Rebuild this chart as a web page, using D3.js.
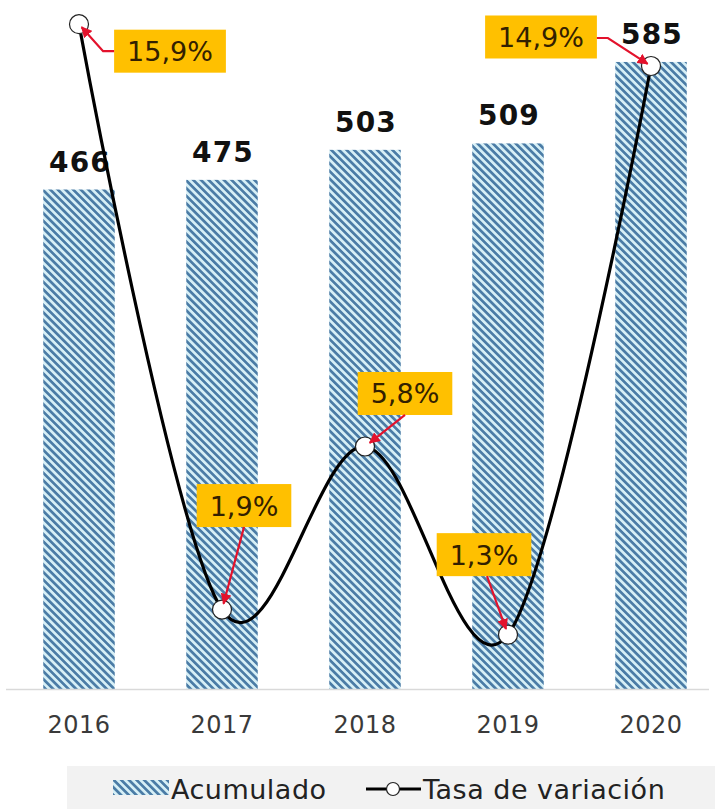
<!DOCTYPE html>
<html>
<head>
<meta charset="utf-8">
<script src="https://cdn.jsdelivr.net/npm/d3@7/dist/d3.min.js"></script>
<style>
  html, body { margin: 0; padding: 0; background: #ffffff; }
  svg { display: block; }
</style>
</head>
<body>
<svg id="chart" width="715" height="809"></svg>
<script>
// ---- data ----
const years = ["2016", "2017", "2018", "2019", "2020"];
const acumulado = [466, 475, 503, 509, 585];
const tasa = [15.9, 1.9, 5.8, 1.3, 14.9];
const tasaLabels = ["15,9%", "1,9%", "5,8%", "1,3%", "14,9%"];
const legendLabels = ["Acumulado", "Tasa de variación"];

// ---- layout (annotation placement, not data) ----
const W = 715, H = 809;
const baseY = 689;
const annot = [
  { dx: 91,  dy: 27,   arrow: "left" },
  { dx: 22,  dy: -104, arrow: "bottom" },
  { dx: 40,  dy: -53,  arrow: "bottom" },
  { dx: -24, dy: -80,  arrow: "bottom" },
  { dx: -110, dy: -29, arrow: "right" }
];

const svg = d3.select("#chart");
const defs = svg.append("defs");

const pat = defs.append("pattern")
  .attr("id", "hatch")
  .attr("patternUnits", "userSpaceOnUse")
  .attr("width", 10).attr("height", 5.4)
  .attr("patternTransform", "rotate(45)");
pat.append("rect").attr("width", 10).attr("height", 5.4).attr("fill", "#d6eff6");
pat.append("rect").attr("width", 10).attr("height", 2.7).attr("fill", "#4b7ca6");

defs.append("marker")
  .attr("id", "arrow")
  .attr("viewBox", "0 0 10 10")
  .attr("refX", 9).attr("refY", 5)
  .attr("markerWidth", 5).attr("markerHeight", 5)
  .attr("markerUnits", "strokeWidth")
  .attr("orient", "auto")
  .append("path").attr("d", "M0,0 L10,5 L0,10 z").attr("fill", "#e3122c");

const x = d3.scaleBand().domain(years).range([7.5, 722.5]).paddingInner(0.5).paddingOuter(0.25);
const y = d3.scaleLinear().domain([0, 640]).range([baseY, 3]);
const y2 = d3.scaleLinear().domain([0, 16]).range([baseY, 20]);
const cx = d => x(d) + x.bandwidth() / 2;

// bars
svg.append("g").selectAll("rect").data(years).join("rect")
  .attr("x", d => x(d))
  .attr("y", (d, i) => y(acumulado[i]))
  .attr("width", x.bandwidth())
  .attr("height", (d, i) => baseY - y(acumulado[i]))
  .attr("fill", "url(#hatch)");

// axis line
svg.append("line").attr("x1", 6).attr("x2", 709).attr("y1", baseY + 0.5).attr("y2", baseY + 0.5)
  .attr("stroke", "#d9d9d9").attr("stroke-width", 1.5);

// x axis labels
const xAxis = d3.axisBottom(x).tickSize(0).tickPadding(0);
const gx = svg.append("g").attr("transform", `translate(0,${baseY})`).call(xAxis);
gx.select(".domain").remove();
gx.selectAll("text")
  .attr("y", 44).attr("dy", 0)
  .attr("font-family", "DejaVu Sans, Verdana, sans-serif")
  .attr("font-size", 24).attr("letter-spacing", 0.5).attr("fill", "#3a3a3a");

// bar value labels
svg.append("g").selectAll("text").data(years).join("text")
  .attr("x", d => cx(d) + 1)
  .attr("y", (d, i) => y(acumulado[i]) - 18)
  .attr("text-anchor", "middle")
  .attr("font-family", "DejaVu Sans, Verdana, sans-serif")
  .attr("font-weight", "bold").attr("font-size", 28)
  .attr("letter-spacing", 1.2)
  .attr("fill", "#111")
  .text((d, i) => acumulado[i]);

// line
const pts = years.map((d, i) => [cx(d), y2(tasa[i])]);
svg.append("path")
  .attr("d", d3.line().curve(d3.curveCardinal.tension(0))(pts))
  .attr("fill", "none").attr("stroke", "#000").attr("stroke-width", 3.2);

// markers
svg.append("g").selectAll("circle").data(pts).join("circle")
  .attr("cx", d => d[0]).attr("cy", d => d[1]).attr("r", 9.5)
  .attr("fill", "#fff").attr("stroke", "#222").attr("stroke-width", 1.2);

// annotation boxes
const ag = svg.append("g");
pts.forEach((p, i) => {
  const a = annot[i];
  const bx = p[0] + a.dx, by = p[1] + a.dy;
  const g = ag.append("g");
  const t = g.append("text")
    .attr("x", bx).attr("y", by + 10)
    .attr("text-anchor", "middle")
    .attr("font-family", "DejaVu Sans, Verdana, sans-serif")
    .attr("font-size", 27).attr("fill", "#332000")
    .text(tasaLabels[i]);
  const tw = t.node().getComputedTextLength();
  const bw = tw + 26, bh = 43;
  g.insert("rect", "text")
    .attr("x", bx - bw / 2).attr("y", by - bh / 2)
    .attr("width", bw).attr("height", bh)
    .attr("fill", "#ffc000");
  let path;
  if (a.arrow === "left") {
    const sx = bx - bw / 2, sy = by;
    const ex = sx - 11;
    const ux = p[0] - ex, uy = p[1] - sy, L = Math.hypot(ux, uy);
    path = [[sx, sy], [ex, sy], [p[0] - ux / L * 4, p[1] - uy / L * 4]];
  } else if (a.arrow === "right") {
    const sx = bx + bw / 2, sy = by + 1;
    const ex = sx + 11;
    const ux = p[0] - ex, uy = p[1] - sy, L = Math.hypot(ux, uy);
    path = [[sx, sy], [ex, sy], [p[0] - ux / L * 4, p[1] - uy / L * 4]];
  } else {
    const sx = bx + (a.dx > 0 ? 0 : 3), sy = by + bh / 2;
    const ux = p[0] - sx, uy = p[1] - sy, L = Math.hypot(ux, uy);
    path = [[sx, sy], [p[0] - ux / L * 6, p[1] - uy / L * 6]];
  }
  svg.append("path")
    .attr("d", d3.line()(path))
    .attr("fill", "none").attr("stroke", "#e3122c").attr("stroke-width", 2.2)
    .attr("marker-end", "url(#arrow)");
});

// legend
const lg = svg.append("g");
lg.append("rect").attr("x", 67).attr("y", 766).attr("width", W - 67).attr("height", H - 766)
  .attr("fill", "#f2f2f2");
lg.append("rect").attr("x", 113).attr("y", 780).attr("width", 56).attr("height", 15)
  .attr("fill", "url(#hatch)");
lg.append("text").attr("x", 171).attr("y", 799)
  .attr("font-family", "DejaVu Sans, Verdana, sans-serif").attr("font-size", 27)
  .attr("letter-spacing", 0.5).attr("fill", "#222")
  .text(legendLabels[0]);
lg.append("line").attr("x1", 366).attr("x2", 421).attr("y1", 789).attr("y2", 789)
  .attr("stroke", "#000").attr("stroke-width", 3.2);
lg.append("circle").attr("cx", 393).attr("cy", 789).attr("r", 6.5)
  .attr("fill", "#fff").attr("stroke", "#222").attr("stroke-width", 1.2);
lg.append("text").attr("x", 423).attr("y", 799)
  .attr("font-family", "DejaVu Sans, Verdana, sans-serif").attr("font-size", 27)
  .attr("letter-spacing", 0.5).attr("fill", "#222")
  .text(legendLabels[1]);
</script>
</body>
</html>
